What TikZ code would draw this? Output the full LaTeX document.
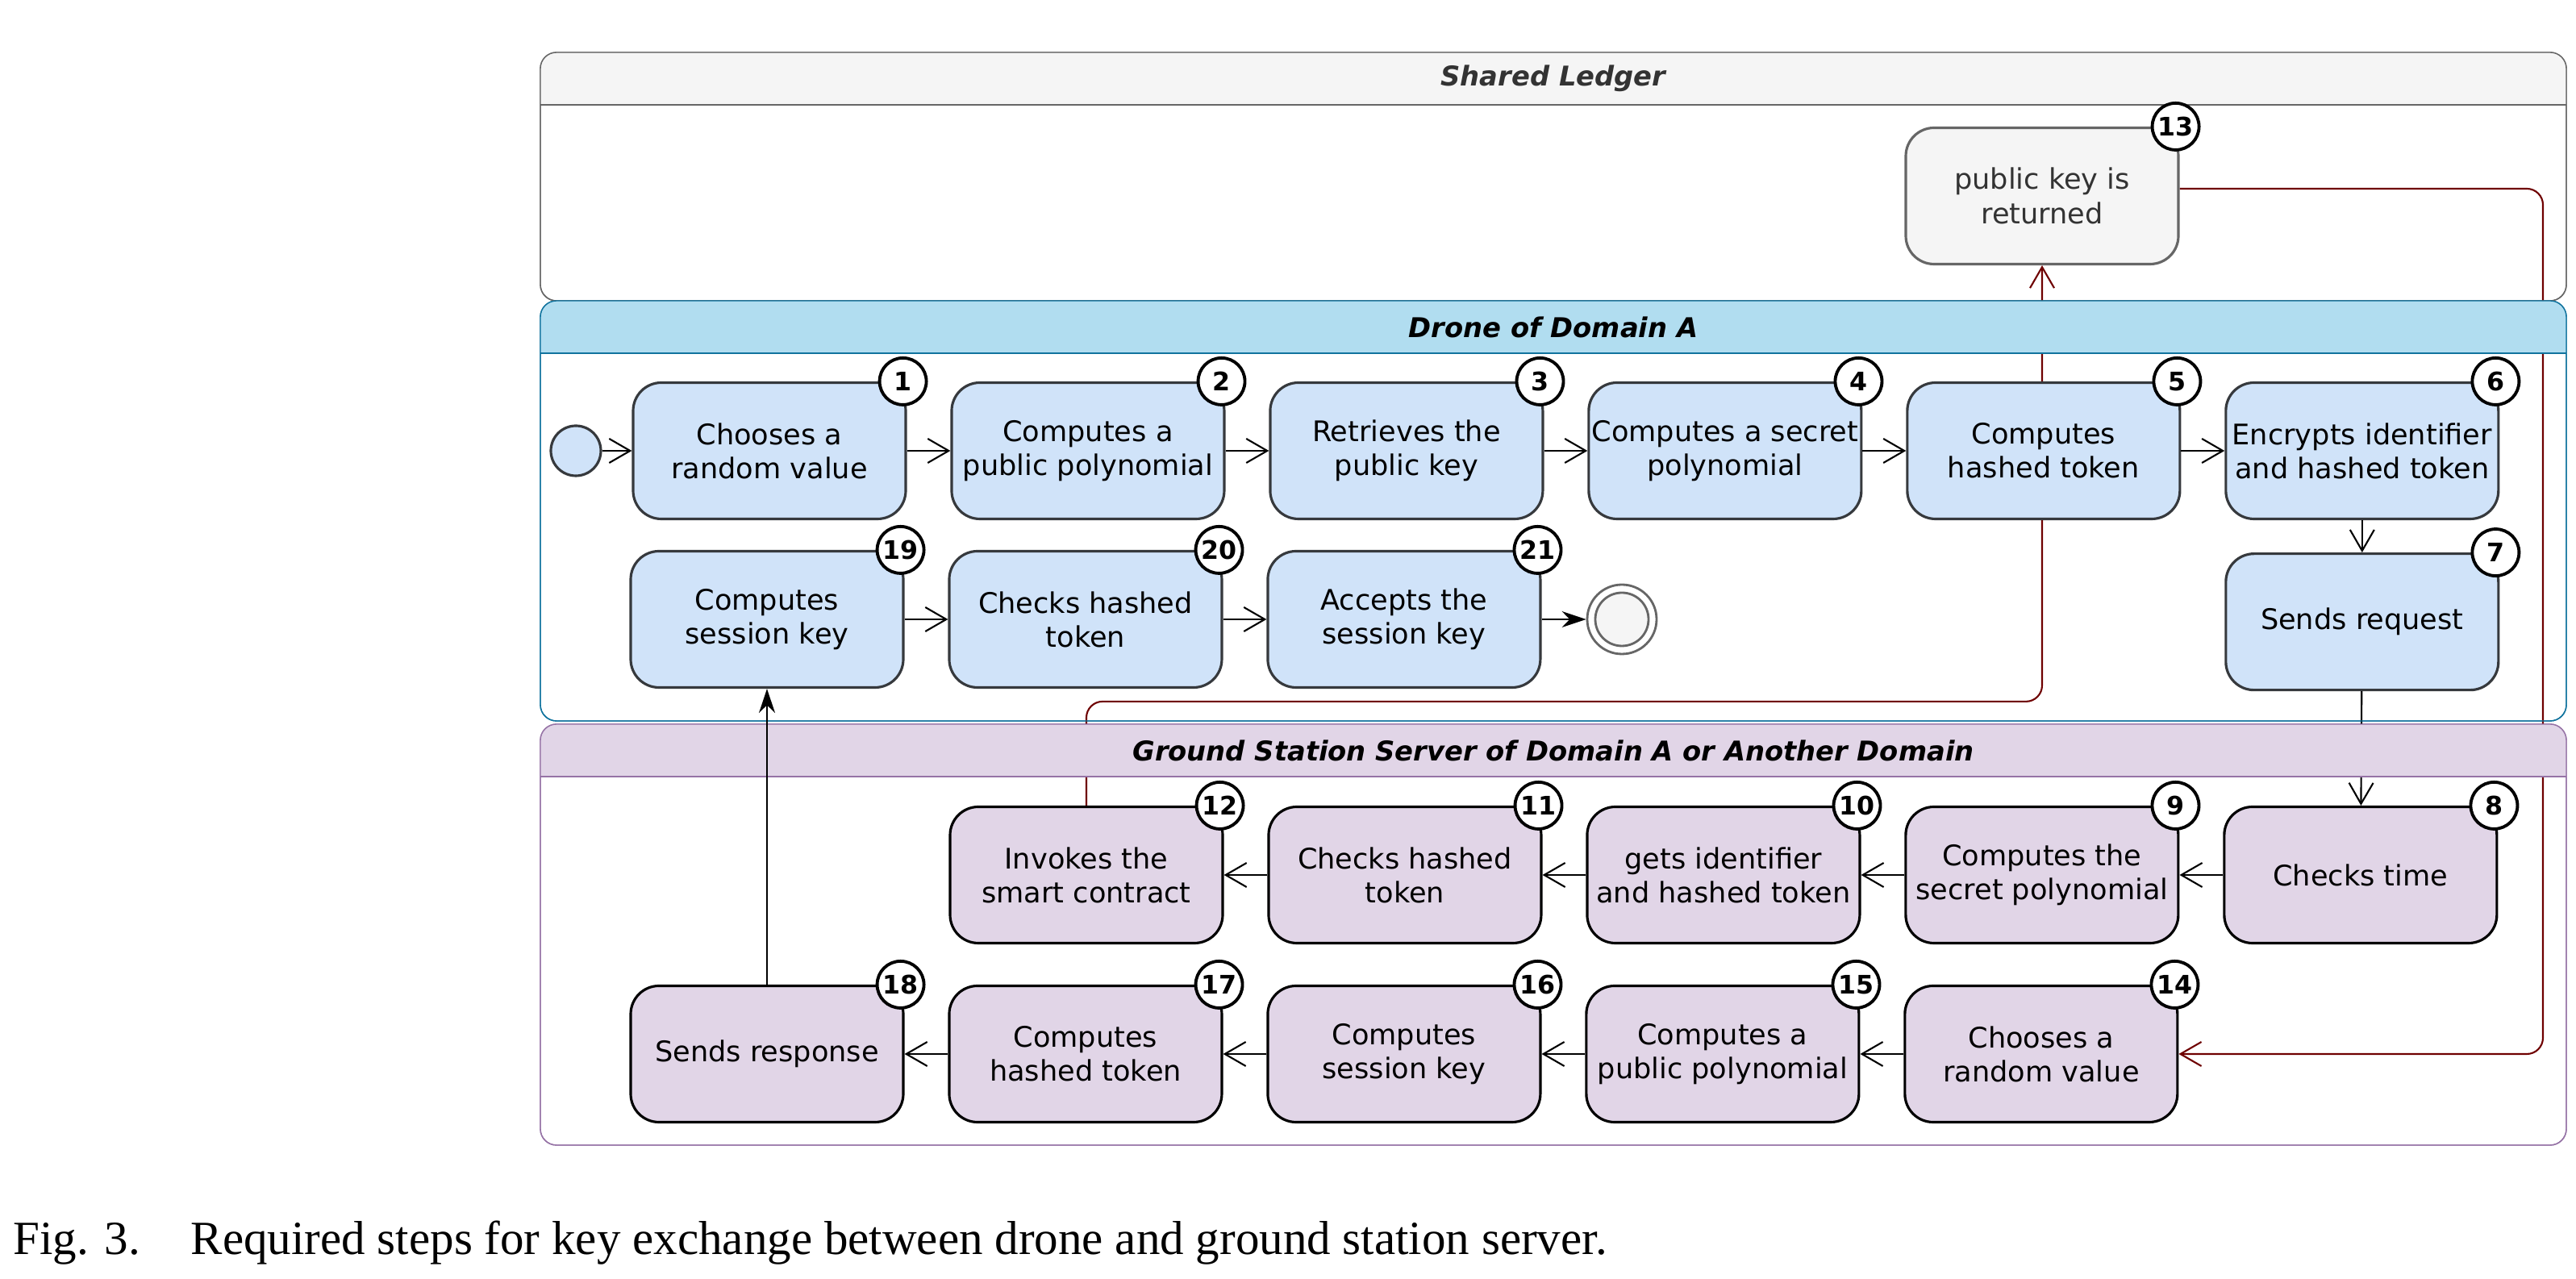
\documentclass[tikz,border=0pt]{standalone}
\usepackage{fontspec}
\setmainfont{DejaVu Sans}
\newfontfamily\capfont{Liberation Serif}
\usepackage{xcolor}
\usepackage{tikz}
\usetikzlibrary{positioning}
\usetikzlibrary{arrows.meta,calc}
\definecolor{dronefill}{HTML}{D0E3F9}
\definecolor{droneline}{HTML}{36393D}
\definecolor{dronehead}{HTML}{B1DDF0}
\definecolor{droneframe}{HTML}{10739E}
\definecolor{groundfill}{HTML}{E1D5E7}
\definecolor{groundframe}{HTML}{9673A6}
\definecolor{ledgerfill}{HTML}{F5F5F5}
\definecolor{ledgerframe}{HTML}{666666}
\definecolor{ledgertext}{HTML}{333333}
\definecolor{contract}{HTML}{6F0000}
\pgfdeclarelayer{bodies}
\pgfdeclarelayer{lines}
\pgfdeclarelayer{heads}
\pgfsetlayers{bodies,lines,heads,main}
\tikzset{
	activity/.style={
			rectangle, rounded corners=0.35cm, draw, line width=0.9pt,
			minimum width=3.38cm, minimum height=1.69cm, inner sep=0pt,
			align=center, font=\fontsize{10}{12}\selectfont
		},
	dronestep/.style={activity, fill=dronefill, draw=droneline},
	groundstep/.style={activity, fill=groundfill, draw=black},
	ledgerstep/.style={activity, fill=ledgerfill, draw=ledgerframe, text=ledgertext},
	badge/.style={
			circle, draw, fill=white, line width=1.1pt, minimum size=0.58cm,
			inner sep=0pt, font=\bfseries\fontsize{9}{9}\selectfont
		},
	flow/.style={draw, line width=0.6pt, -{Straight Barb[length=0.26cm,width=0.3cm]}},
	ledgerflow/.style={flow, draw=contract, rounded corners=0.2cm},
	solidflow/.style={draw, line width=0.6pt, -{Stealth[length=0.3cm,width=0.2cm]}},
	lanetitle/.style={font=\bfseries\itshape\fontsize{9.6}{12}\selectfont},
	caption/.style={anchor=base west, inner sep=0pt, font=\capfont\fontsize{16.8}{20}\selectfont}
}

\begin{document}
\begin{tikzpicture}[node distance = 0.538cm]
  \useasboundingbox (0,0) rectangle (31.94,-15.86);

  % lanes
  \begin{pgfonlayer}{bodies}
    \draw[ledgerframe, fill=white, rounded corners=0.2cm] (6.70,-0.65) rectangle (31.82,-3.73);
    \draw[droneframe, fill=white, rounded corners=0.2cm] (6.70,-3.73) rectangle (31.82,-8.94);
    \draw[groundframe, fill=white, rounded corners=0.2cm] (6.70,-8.98) rectangle (31.82,-14.20);
  \end{pgfonlayer}
  \begin{pgfonlayer}{heads}
    \begin{scope}
      \clip[rounded corners=0.2cm] (6.70,-0.65) rectangle (31.82,-3.73);
      \fill[ledgerfill] (6.70,-0.65) rectangle (31.82,-1.30);
    \end{scope}
    \draw[ledgerframe, rounded corners=0.2cm] (6.70,-0.65) rectangle (31.82,-3.73);
    \draw[ledgerframe] (6.70,-1.30) -- (31.82,-1.30);
    \node[lanetitle, text=ledgertext] (ledger) at (19.26,-0.975) {Shared Ledger};

    \begin{scope}
      \clip[rounded corners=0.2cm] (6.70,-3.73) rectangle (31.82,-8.94);
      \fill[dronehead] (6.70,-3.73) rectangle (31.82,-4.38);
    \end{scope}
    \draw[droneframe, rounded corners=0.2cm] (6.70,-3.73) rectangle (31.82,-8.94);
    \draw[droneframe] (6.70,-4.38) -- (31.82,-4.38);
    \node[lanetitle] (drone) at (19.26,-4.055) {Drone of Domain A};

    \begin{scope}
      \clip[rounded corners=0.2cm] (6.70,-8.98) rectangle (31.82,-14.20);
      \fill[groundfill] (6.70,-8.98) rectangle (31.82,-9.63);
    \end{scope}
    \draw[groundframe, rounded corners=0.2cm] (6.70,-8.98) rectangle (31.82,-14.20);
    \draw[groundframe] (6.70,-9.63) -- (31.82,-9.63);
    \node[lanetitle] (ground) at (19.26,-9.305) {Ground Station Server of Domain A or Another Domain};
  \end{pgfonlayer}

  \node[ledgerstep] (pubkey) at (25.32,-2.43) {public key is\\returned};

  \node[circle, draw=droneline, fill=dronefill, line width=0.9pt, minimum size=0.62cm] (start) at (7.14,-5.59) {};
  \node[dronestep] (droneRandom) at (9.54,-5.59) {Chooses a\\random value};
  \node[dronestep, right=of droneRandom] (dronePoly) {Computes a\\public polynomial};
  \node[dronestep, right=of dronePoly] (retrieveKey) {Retrieves the\\public key};
  \node[dronestep, right=of retrieveKey] (secretPoly) {Computes a secret\\polynomial};
  \node[dronestep, right=of secretPoly] (droneToken) {Computes\\hashed token};
  \node[dronestep, right=of droneToken] (encrypt) {Encrypts identifier\\and hashed token};
  \node[dronestep, below=0.40cm of encrypt] (request) {Sends request};
  \node[dronestep] (droneSession) at (9.51,-7.68) {Computes\\session key};
  \node[dronestep, right=of droneSession] (droneCheck) {Checks hashed\\token};
  \node[dronestep, right=of droneCheck] (accept) {Accepts the\\session key};
  \node[circle, draw=ledgerframe, fill=white, line width=0.8pt, minimum size=0.86cm] (stop) at (20.11,-7.68) {};
  \node[circle, draw=ledgerframe, fill=ledgerfill, line width=0.8pt, minimum size=0.66cm] (stopdot) at (stop) {};

  \node[groundstep] (invoke) at (13.47,-10.85) {Invokes the\\smart contract};
  \node[groundstep, right=of invoke] (serverCheck) {Checks hashed\\token};
  \node[groundstep, right=of serverCheck] (getIdent) {gets identifier\\and hashed token};
  \node[groundstep, right=of getIdent] (serverSecret) {Computes the\\secret polynomial};
  \node[groundstep, right=of serverSecret] (checkTime) {Checks time};
  \node[groundstep] (response) at (9.51,-13.07) {Sends response};
  \node[groundstep, right=of response] (serverToken) {Computes\\hashed token};
  \node[groundstep, right=of serverToken] (serverSession) {Computes\\session key};
  \node[groundstep, right=of serverSession] (serverPoly) {Computes a\\public polynomial};
  \node[groundstep, right=of serverPoly] (serverRandom) {Chooses a\\random value};

  \foreach \act/\num in {droneRandom/1, dronePoly/2, retrieveKey/3, secretPoly/4,
      droneToken/5, encrypt/6, request/7, checkTime/8, serverSecret/9, getIdent/10,
      serverCheck/11, invoke/12, pubkey/13, serverRandom/14, serverPoly/15,
      serverSession/16, serverToken/17, response/18, droneSession/19,
      droneCheck/20, accept/21}
    \node[badge] (badge\num) at ([xshift=-0.05cm]\act.north east) {\num};

  \path[flow] (start) edge (droneRandom)
    (droneRandom) edge (dronePoly)
    (dronePoly) edge (retrieveKey)
    (retrieveKey) edge (secretPoly)
    (secretPoly) edge (droneToken)
    (droneToken) edge (encrypt)
    (encrypt) edge (request)
    (checkTime) edge (serverSecret)
    (serverSecret) edge (getIdent)
    (getIdent) edge (serverCheck)
    (serverCheck) edge (invoke)
    (serverRandom) edge (serverPoly)
    (serverPoly) edge (serverSession)
    (serverSession) edge (serverToken)
    (serverToken) edge (response)
    (droneSession) edge (droneCheck)
    (droneCheck) edge (accept);
  \draw[solidflow] (accept) -- (stop);
  \draw[solidflow] (response) -- (droneSession);

  \coordinate (ledgerturn) at (31.53,0);
  \begin{pgfonlayer}{lines}
    \draw[flow] (request) -- (checkTime);
    \draw[ledgerflow] (invoke.north) -- ++(0,1.29) -| (pubkey.south);
    \draw[ledgerflow] ([yshift=0.09cm]pubkey.east) -| (serverRandom.east -| ledgerturn) -- (serverRandom.east);
  \end{pgfonlayer}

  \node[caption] (figlabel) at (0.16,-15.56) {Fig. 3.};
  \node[caption] (figcaption) at (2.36,-15.56)
    {Required steps for key exchange between drone and ground station server.};

\end{tikzpicture}
\end{document}
